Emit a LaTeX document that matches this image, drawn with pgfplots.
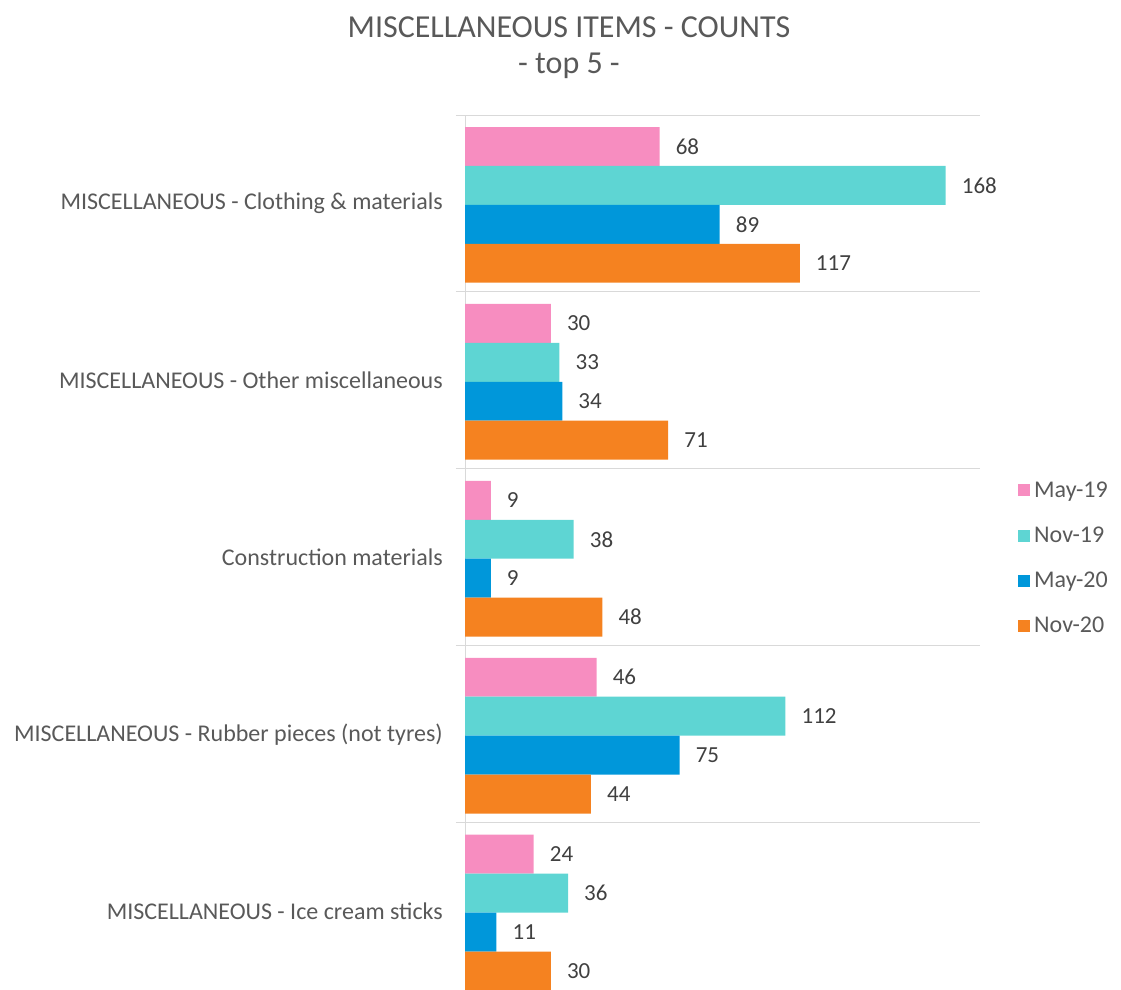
\documentclass[border=0pt]{standalone}
\usepackage{pgfplots}
\pgfplotsset{compat=1.18}
\usepackage{fontspec}
\setmainfont{Carlito}
\definecolor{cpink}{HTML}{F78DC0}
\definecolor{ccyan}{HTML}{5ED5D3}
\definecolor{cblue}{HTML}{0097DA}
\definecolor{corange}{HTML}{F58220}
\definecolor{txt}{HTML}{595959}
\definecolor{valc}{HTML}{404040}
\definecolor{gridc}{HTML}{D9D9D9}
\begin{document}
\begin{tikzpicture}[x=1pt,y=1pt]
\path[use as bounding box] (0,0) rectangle (1121,989);
\node[font=\fontsize{32}{38}\selectfont, text=txt] at (569,962) {MISCELLANEOUS ITEMS - COUNTS};
\node[font=\fontsize{32}{38}\selectfont, text=txt] at (569,923) {- top 5 -};
\begin{axis}[
  at={(465pt,0pt)}, anchor=south west,
  scale only axis, width=515pt, height=874pt,
  xbar, bar width=0.22,
  xmin=0, xmax=180,
  ymin=-0.5, ymax=4.44, y dir=reverse,
  axis x line=none, axis y line*=left,
  y axis line style={draw=gridc, line width=1pt},
  /pgf/number format/assume math mode=true,
  ytick={0,1,2,3,4},
  yticklabels={MISCELLANEOUS - Clothing \& materials, MISCELLANEOUS - Other miscellaneous, Construction materials, MISCELLANEOUS - Rubber pieces (not tyres), MISCELLANEOUS - Ice cream sticks},
  major tick length=0pt,
  yticklabel style={font=\fontsize{24}{29}\selectfont, text=txt, anchor=east, inner sep=0pt, xshift=-22pt},
  extra y ticks={-0.5,0.5,1.5,2.5,3.5},
  extra y tick labels={},
  extra y tick style={grid=major, major grid style={draw=gridc, line width=1pt}, major tick length=9pt, tick align=outside, tick style={draw=gridc, line width=1pt}},
  nodes near coords,
  nodes near coords style={font=\fontsize{23}{28}\selectfont, text=valc, anchor=west, inner sep=0pt, xshift=16pt},
  legend style={at={(1.0728,0.4931)}, anchor=west, draw=none, fill=none, inner sep=0pt, font=\fontsize{24}{29}\selectfont, text=txt, row sep=28pt, legend cell align=left, nodes={inner xsep=4.5pt, inner ysep=0pt}},
  legend image code/.code={\fill[#1] (0pt,-6pt) rectangle (12pt,6pt);},
]
\addplot[fill=cpink, draw=none, bar shift=-0.322] coordinates {(68,0) (30,1) (9,2) (46,3) (24,4)};
\addplot[fill=ccyan, draw=none, bar shift=-0.102] coordinates {(168,0) (33,1) (38,2) (112,3) (36,4)};
\addplot[fill=cblue, draw=none, bar shift=0.118] coordinates {(89,0) (34,1) (9,2) (75,3) (11,4)};
\addplot[fill=corange, draw=none, bar shift=0.338] coordinates {(117,0) (71,1) (48,2) (44,3) (30,4)};
\legend{May-19, Nov-19, May-20, Nov-20}
\end{axis}
\end{tikzpicture}
\end{document}
